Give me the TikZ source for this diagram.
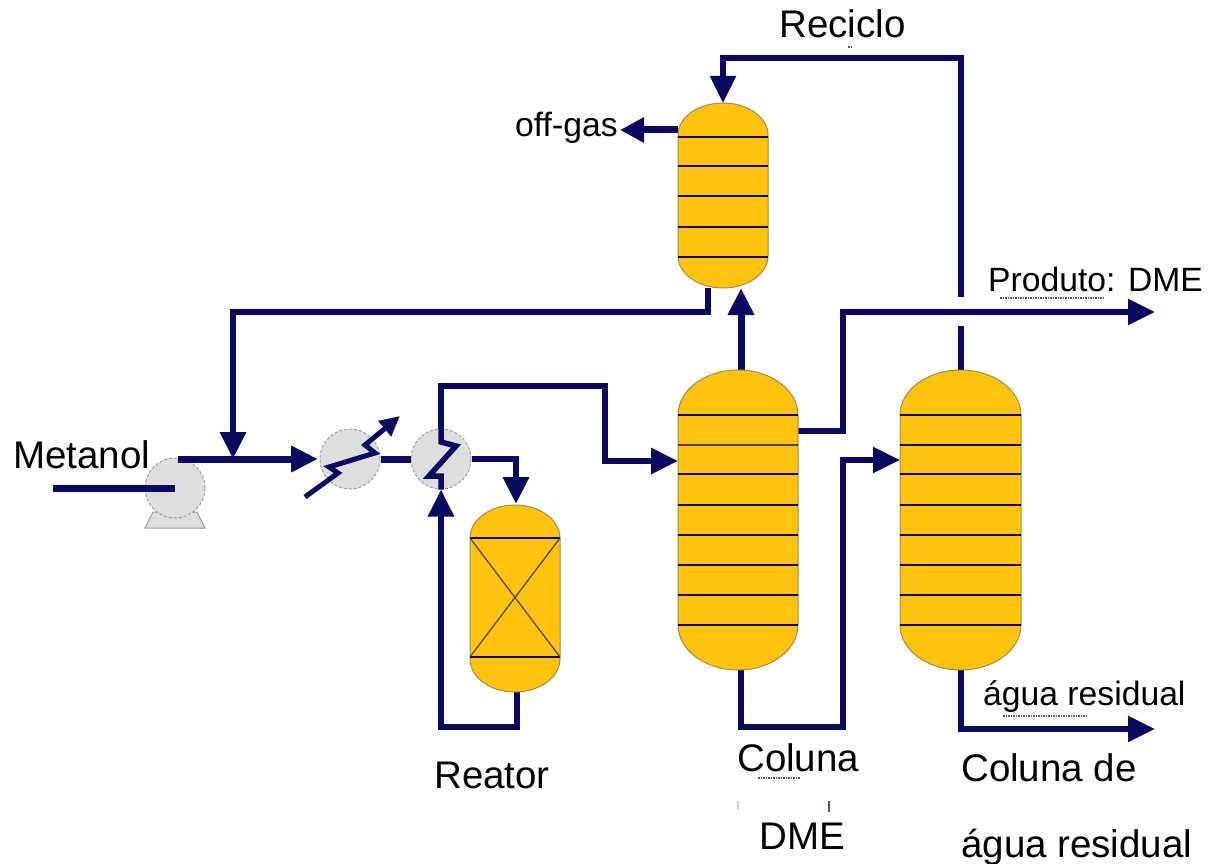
\documentclass[tikz,border=0pt]{standalone}
\usepackage{fontspec}
\setmainfont{Liberation Sans}
\usetikzlibrary{arrows.meta}

\definecolor{pipeblue}{HTML}{0A0A60}
\definecolor{vesselfill}{HTML}{FFC20E}
\definecolor{vesseledge}{HTML}{A08A50}
\definecolor{unitfill}{HTML}{DEDEDE}
\definecolor{unitedge}{HTML}{9A9AA6}

% name, left, top, right, bottom, x radius, head height
\newcommand{\vessel}[7]{
\draw[vessel] (#2,#3+#7) arc[start angle=180,end angle=360,x radius=#6,y radius=#7]
    -- (#4,#5-#7) arc[start angle=0,end angle=180,x radius=#6,y radius=#7] -- cycle;
\coordinate (#1) at ({(#2+#4)/2},{(#3+#5)/2});
}

\begin{document}
\begin{tikzpicture}[x=1pt,y=-1pt]

\tikzset{
    vessel/.style={fill=vesselfill,draw=vesseledge,line width=1pt},
    tray/.style={draw=pipeblue,line width=2.5pt},
    thintray/.style={draw=pipeblue!70!vesselfill,line width=1.2pt},
    unit/.style={circle,minimum size=60pt,inner sep=0pt,fill=unitfill,draw=unitedge,line width=1pt,densely dashed},
    pipe/.style={draw=pipeblue,line width=5.5pt,line join=miter},
    mainpipe/.style={pipe,line width=7pt},
    head/.style={-{Triangle[length=27pt,width=25pt]}},
    label/.style={anchor=base west,inner sep=0pt,text=black,font=\fontsize{38.5}{40}\selectfont},
    smalllabel/.style={label,font=\fontsize{33.7}{36}\selectfont},
    remnant/.style={draw=pipeblue!70,line width=1.5pt,densely dotted}}

\useasboundingbox (0,0) rectangle (1211,864);

% pipe ends and bends
\coordinate (Feed) at (53,488);
\coordinate (PumpOut) at (178,459);
\coordinate (Mix) at (233,459);
\coordinate (MixUp) at (233,312);
\coordinate (TopOut) at (708,288);
\coordinate (TopOutB) at (708,312);
\coordinate (HXIn) at (318,459);
\coordinate (HotOut) at (516,459);
\coordinate (ReactIn) at (516,504);
\coordinate (ReactOut) at (517,691);
\coordinate (ReactB) at (517,727);
\coordinate (ReactC) at (441,727);
\coordinate (Up1) at (441,386);
\coordinate (Up2) at (605,386);
\coordinate (Up3) at (605,461);
\coordinate (DIn) at (678,461);
\coordinate (DTop) at (741,370);
\coordinate (TIn) at (741,288);
\coordinate (DBot) at (741,669);
\coordinate (DB1) at (741,727);
\coordinate (DB2) at (843,727);
\coordinate (DB3) at (843,460);
\coordinate (WIn) at (900,460);
\coordinate (DSide) at (798,431);
\coordinate (DS1) at (843,431);
\coordinate (DS2) at (843,312);
\coordinate (DME) at (1155,312);
\coordinate (WTop) at (961,370);
\coordinate (WTopA) at (961,326);
\coordinate (WGap) at (961,297);
\coordinate (WR1) at (961,58);
\coordinate (WR2) at (723,58);
\coordinate (TTop) at (723,103);
\coordinate (TSide) at (678,130);
\coordinate (Gas) at (620,130);
\coordinate (WBot) at (961,669);
\coordinate (WB1) at (961,729);
\coordinate (Water) at (1155,729);

% pumps and exchangers
\fill[unitfill,draw=unitedge,line width=1pt] (153,512) -- (145,528) -- (205,528) -- (197,512) -- cycle;
\node[unit] (Pump) at (175,488) {};
\node[unit] (HXa) at (350,459) {};
\node[unit] (HXb) at (441,459) {};

% pipes
\draw[mainpipe] (Feed) -- (Pump.center);
\draw[mainpipe,head] (PumpOut) -- (HXIn);
\draw[mainpipe,line width=6.5pt,head] (TopOut) -- (TopOutB) -- (MixUp) -- (Mix);
\draw[mainpipe] (HXa.east) -- (HXb.west);
\draw[mainpipe,line width=6.5pt,head] (HXb.east) -- (HotOut) -- (ReactIn);
\draw[pipe,line width=6pt,head] (ReactOut) -- (ReactB) -- (ReactC) -- (HXb.south);
\draw[pipe,line width=6pt,head] (HXb.north) -- (Up1) -- (Up2) -- (Up3) -- (DIn);
\draw[mainpipe,head] (DTop) -- (TIn);
\draw[pipe,head] (DBot) -- (DB1) -- (DB2) -- (DB3) -- (WIn);
\draw[pipe,head] (DSide) -- (DS1) -- (DS2) -- (DME);
\draw[pipe] (WTop) -- (WTopA);
\draw[pipe,head] (WGap) -- (WR1) -- (WR2) -- (TTop);
\draw[mainpipe,-{Triangle[length=24pt,width=24pt]}] (TSide) -- (Gas);
\draw[pipe,head] (WBot) -- (WB1) -- (Water);

% exchanger zigzags
\coordinate (Za) at (305,497);
\coordinate (Zb) at (338,473);
\coordinate (Zc) at (329,467);
\coordinate (Zd) at (375,453);
\coordinate (Ze) at (365,445);
\coordinate (Zf) at (400,416);
\draw[pipeblue,line width=5pt,-{Triangle[length=20pt,width=19pt]}] (Za) -- (Zb) -- (Zc) -- (Zd) -- (Ze) -- (Zf);
\coordinate (Ya) at (441,442);
\coordinate (Yb) at (456,446);
\coordinate (Yc) at (429,476);
\coordinate (Yd) at (441,476);
\draw[pipeblue,line width=5.5pt] (HXb.north) -- (Ya) -- (Yb) -- (Yc) -- (Yd) -- (HXb.south);

% vessels
\vessel{Top}{678}{103}{768}{288}{45}{32}
\foreach \y in {137,166,196,227,257} \draw[tray] (678,\y) -- (768,\y);

\vessel{ColD}{678}{370}{798}{670}{60}{45}
\foreach \y in {415,474,505,535,565,595,625} \draw[tray] (678,\y) -- (798,\y);
\draw[thintray] (678,445) -- (798,445);

\vessel{ColW}{900}{370}{1021}{670}{60.5}{45}
\foreach \y in {415,445,474,505,535,565,595,625} \draw[tray] (900,\y) -- (1021,\y);

\vessel{React}{470}{505}{560}{692}{45}{33}
\draw[tray] (470,538) -- (560,538);
\draw[tray] (470,657) -- (560,657);
\draw[pipeblue!70!vesselfill,line width=1.2pt] (470,538) -- (560,657);
\draw[pipeblue!70!vesselfill,line width=1.2pt] (560,538) -- (470,657);

% labels
\node[label] (metanol) at (13,468) {Metanol};
\node[label] (reciclo) at (779,38) {Reciclo};
\node[smalllabel] (offgas) at (515,137) {off-gas};
\node[smalllabel] (produto) at (988,291) {Produto: DME};
\node[smalllabel] (agua) at (983,705) {água residual};
\node[label] (reator) at (434,788) {Reator};
\node[label] (coluna) at (737,771) {Coluna};
\node[label] (dme) at (759,849) {DME};
\node[label] (colunade) at (961,781) {Coluna de};
\node[label] (residual) at (961,857) {água residual};

% leftovers under the labels
\draw[remnant] (1000,298) -- (1105,298);
\draw[remnant] (1003,716) -- (1088,716);
\draw[remnant] (758,778) -- (800,778);
\draw[remnant] (848,47) -- (853,47);
\draw[pipeblue!70,line width=1.5pt] (829,801) -- (829,812);
\draw[pipeblue!20,line width=1.5pt] (738,801) -- (738,810);

\end{tikzpicture}
\end{document}
